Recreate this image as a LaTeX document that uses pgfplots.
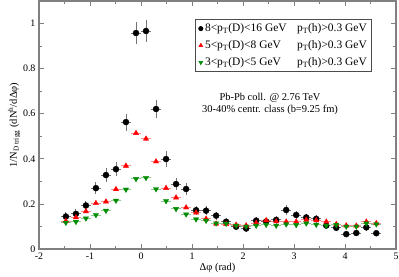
\documentclass[border=0pt]{standalone}
\usepackage{pgfplots}
\pgfplotsset{compat=1.18}
\usepackage{pgfplotstable}
\usepackage{fontspec}
\setmainfont{Liberation Serif}
\definecolor{dgreen}{rgb}{0,0.55,0}
\pgfplotstableread{
x y ey
-1.473 0.144 0.018
-1.276 0.156 0.020
-1.080 0.193 0.022
-0.884 0.270 0.027
-0.687 0.328 0.030
-0.491 0.354 0.032
-0.295 0.563 0.038
-0.098 0.958 0.050
0.098 0.967 0.050
0.295 0.621 0.042
0.491 0.399 0.035
0.687 0.288 0.028
0.884 0.266 0.026
1.080 0.172 0.020
1.276 0.170 0.020
1.473 0.148 0.018
1.669 0.121 0.016
1.865 0.099 0.015
2.062 0.091 0.015
2.258 0.126 0.016
2.454 0.122 0.016
2.651 0.129 0.016
2.847 0.173 0.020
3.043 0.151 0.018
3.240 0.140 0.017
3.436 0.134 0.017
3.633 0.104 0.015
3.829 0.094 0.015
4.025 0.066 0.012
4.222 0.071 0.012
4.418 0.096 0.015
4.614 0.070 0.012
}\blackdata
\pgfplotstableread{
x y ey
-1.473 0.124 0.007
-1.276 0.140 0.007
-1.080 0.167 0.007
-0.884 0.203 0.007
-0.687 0.210 0.007
-0.491 0.265 0.007
-0.295 0.369 0.008
-0.098 0.514 0.009
0.098 0.489 0.009
0.295 0.388 0.008
0.491 0.270 0.007
0.687 0.228 0.007
0.884 0.184 0.007
1.080 0.161 0.007
1.276 0.134 0.007
1.473 0.112 0.006
1.669 0.110 0.006
1.865 0.107 0.006
2.062 0.104 0.006
2.258 0.115 0.006
2.454 0.127 0.006
2.651 0.122 0.006
2.847 0.121 0.006
3.043 0.121 0.006
3.240 0.129 0.006
3.436 0.127 0.006
3.633 0.121 0.006
3.829 0.110 0.006
4.025 0.104 0.006
4.222 0.103 0.006
4.418 0.121 0.006
4.614 0.114 0.006
}\reddata
\pgfplotstableread{
x y ey
-1.473 0.117 0.005
-1.276 0.121 0.005
-1.080 0.136 0.005
-0.884 0.151 0.005
-0.687 0.170 0.005
-0.491 0.215 0.006
-0.295 0.264 0.006
-0.098 0.311 0.006
0.098 0.316 0.006
0.295 0.266 0.006
0.491 0.213 0.006
0.687 0.178 0.005
0.884 0.154 0.005
1.080 0.132 0.005
1.276 0.126 0.005
1.473 0.114 0.005
1.669 0.113 0.005
1.865 0.104 0.005
2.062 0.100 0.005
2.258 0.104 0.005
2.454 0.108 0.005
2.651 0.104 0.005
2.847 0.110 0.005
3.043 0.107 0.005
3.240 0.114 0.005
3.436 0.108 0.005
3.633 0.104 0.005
3.829 0.107 0.005
4.025 0.100 0.005
4.222 0.100 0.005
4.418 0.114 0.005
4.614 0.110 0.005
}\greendata
\begin{document}
\begin{tikzpicture}
\begin{axis}[
  scale only axis,
  width=357bp, height=248bp,
  xmin=-2, xmax=5, ymin=0, ymax=1.1,
  xtick={-2,-1,0,1,2,3,4,5},
  ytick={0,0.2,0.4,0.6,0.8,1},
  minor x tick num=1, minor y tick num=1,
  tick align=inside,
  major tick length=5bp, minor tick length=3bp,
  axis line style={black!50, line width=1.2bp},
  every tick/.style={black!50, line width=0.8bp},
  tick label style={font=\fontsize{10}{12}\selectfont},
  /pgf/number format/assume math mode=true,
  yticklabel style={/pgf/number format/fixed},
  xlabel={\fontsize{10.5}{12}\selectfont Δφ (rad)},
  ylabel={\fontsize{10.5}{12}\selectfont 1/N\textsubscript{D trigg} (dN\textsuperscript{h}/dΔφ)},
  xlabel style={yshift=3bp},
  ylabel style={yshift=-4bp},
  legend cell align=left,
  legend style={at={(rel axis cs:0.933,0.927)}, anchor=north east,
    draw=black!70, line width=0.6bp, font=\fontsize{11.5}{13}\selectfont,
    inner xsep=3bp, inner ysep=2.5bp, row sep=3.5bp},
  legend image code/.code={\path plot[only marks, mark size=2.2bp] coordinates {(0.15cm,0cm)};},
  error bars/error mark=none,
]
\addplot[only marks, mark=*, mark size=3bp, black,
  error bars/.cd, x dir=both, x fixed=0.098, y dir=both, y explicit,
  error bar style={black!55, line width=0.9bp}]
  table[x=x, y=y, y error=ey] {\blackdata};
\addlegendentry{\makebox[92bp][l]{8<p\textsubscript{T}(D)<16 GeV}p\textsubscript{T}(h)>0.3 GeV}
\addplot[only marks, mark=triangle*, mark size=3bp, red,
  error bars/.cd, x dir=both, x fixed=0.098, y dir=both, y explicit,
  error bar style={red!45, line width=0.9bp}]
  table[x=x, y=y, y error=ey] {\reddata};
\addlegendentry{\makebox[92bp][l]{5<p\textsubscript{T}(D)<8 GeV}p\textsubscript{T}(h)>0.3 GeV}
\addplot[only marks, mark=triangle*, mark options={rotate=180}, mark size=3bp, dgreen,
  error bars/.cd, x dir=both, x fixed=0.098, y dir=both, y explicit,
  error bar style={dgreen!45, line width=0.9bp}]
  table[x=x, y=y, y error=ey] {\greendata};
\addlegendentry{\makebox[92bp][l]{3<p\textsubscript{T}(D)<5 GeV}p\textsubscript{T}(h)>0.3 GeV}
\node[align=center, font=\fontsize{10.5}{12}\selectfont] at (axis cs:2.53,0.642)
  {Pb-Pb coll. @ 2.76 TeV\\30-40\% centr. class (b=9.25 fm)};
\end{axis}
\pgfresetboundingbox
\path ([xshift=-39bp,yshift=-27bp]current axis.south west) rectangle ([xshift=3bp,yshift=1bp]current axis.north east);
\end{tikzpicture}
\end{document}
